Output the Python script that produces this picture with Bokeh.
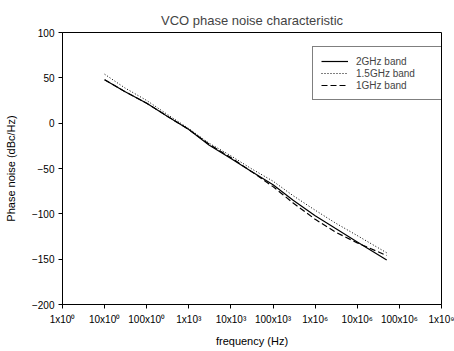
import numpy as np
from bokeh.plotting import figure
from bokeh.models import FixedTicker, Legend, LegendItem, Range1d
from bokeh.embed import file_html
from bokeh.resources import INLINE

freq = [10, 30, 100, 300, 1e3, 3e3, 1e4, 3e4, 1e5, 3e5, 1e6, 3e6, 1e7, 5e7]
band_2ghz = [48, 35, 22, 8, -7, -24, -39, -53, -68, -85, -102, -116, -131, -151]
band_15ghz = [54, 39, 25, 10, -6, -22, -36, -50, -64, -80, -96, -110, -124, -143]
band_1ghz = [48, 35, 22, 8, -7, -23, -38, -53, -70, -88, -106, -120, -132, -146]

x_ticks = [1, 10, 100, 1e3, 1e4, 1e5, 1e6, 1e7, 1e8, 1e9]
x_tick_labels = ["1x10\u2070", "10x10\u2070", "100x10\u2070", "1x10\u00b3", "10x10\u00b3",
                 "100x10\u00b3", "1x10\u2076", "10x10\u2076", "100x10\u2076", "1x10\u2079"]
y_ticks = [-200, -150, -100, -50, 0, 50, 100]

FONT = "Liberation Sans"

p = figure(width=454, height=351, x_axis_type="log", output_backend="svg",
           toolbar_location=None, title="VCO phase noise characteristic",
           x_range=Range1d(1, 1e9), y_range=Range1d(-200, 100),
           min_border_left=62, min_border_right=13, min_border_top=32, min_border_bottom=47)

p.title.align = "center"
p.title.text_font = FONT
p.title.text_font_size = "13px"
p.title.text_font_style = "normal"
p.title.offset = 0

p.grid.visible = False
p.outline_line_color = "black"
p.outline_line_width = 1
p.background_fill_color = "white"
p.border_fill_color = "white"

p.xaxis.ticker = FixedTicker(ticks=x_ticks, minor_ticks=[])
p.xaxis.major_label_overrides = {float(t): l for t, l in zip(x_ticks, x_tick_labels)}
p.yaxis.ticker = FixedTicker(ticks=y_ticks, minor_ticks=[])
for ax in (p.xaxis, p.yaxis):
    ax.major_tick_in = 0
    ax.major_tick_out = 4
    ax.minor_tick_in = 0
    ax.minor_tick_out = 0
    ax.axis_line_color = "black"
    ax.major_tick_line_color = "black"
    ax.major_label_text_font = FONT
    ax.major_label_text_font_size = "10px"
    ax.major_label_text_color = "black"
    ax.axis_label_text_font = FONT
    ax.axis_label_text_font_size = "11px"
    ax.axis_label_text_font_style = "normal"
    ax.axis_label_text_color = "black"
p.xaxis.axis_label = "frequency (Hz)"
p.yaxis.axis_label = "Phase noise (dBc/Hz)"
p.xaxis.major_label_standoff = 5
p.xaxis.axis_label_standoff = 7
p.yaxis.major_label_standoff = 4
p.yaxis.axis_label_standoff = 12

r1 = p.line(freq, band_2ghz, line_color="black", line_width=1.2)
r2 = p.line(freq, band_15ghz, line_color="black", line_width=1.0, line_dash="1 2")
r3 = p.line(freq, band_1ghz, line_color="black", line_width=1.2, line_dash="6 3")

legend = Legend(items=[LegendItem(label="2GHz band", renderers=[r1]),
                       LegendItem(label="1.5GHz band", renderers=[r2]),
                       LegendItem(label="1GHz band", renderers=[r3])],
                location=(250, 204), orientation="vertical")
legend.border_line_color = "black"
legend.border_line_width = 1
legend.background_fill_alpha = 1
legend.label_text_font = FONT
legend.label_text_font_size = "10px"
legend.glyph_width = 27
legend.glyph_height = 12
legend.label_height = 12
legend.label_width = 84
legend.label_standoff = 8
legend.spacing = 0
legend.padding = 8
legend.margin = 0
p.add_layout(legend, "center")

open("out.html", "w").write(file_html(p, INLINE))
